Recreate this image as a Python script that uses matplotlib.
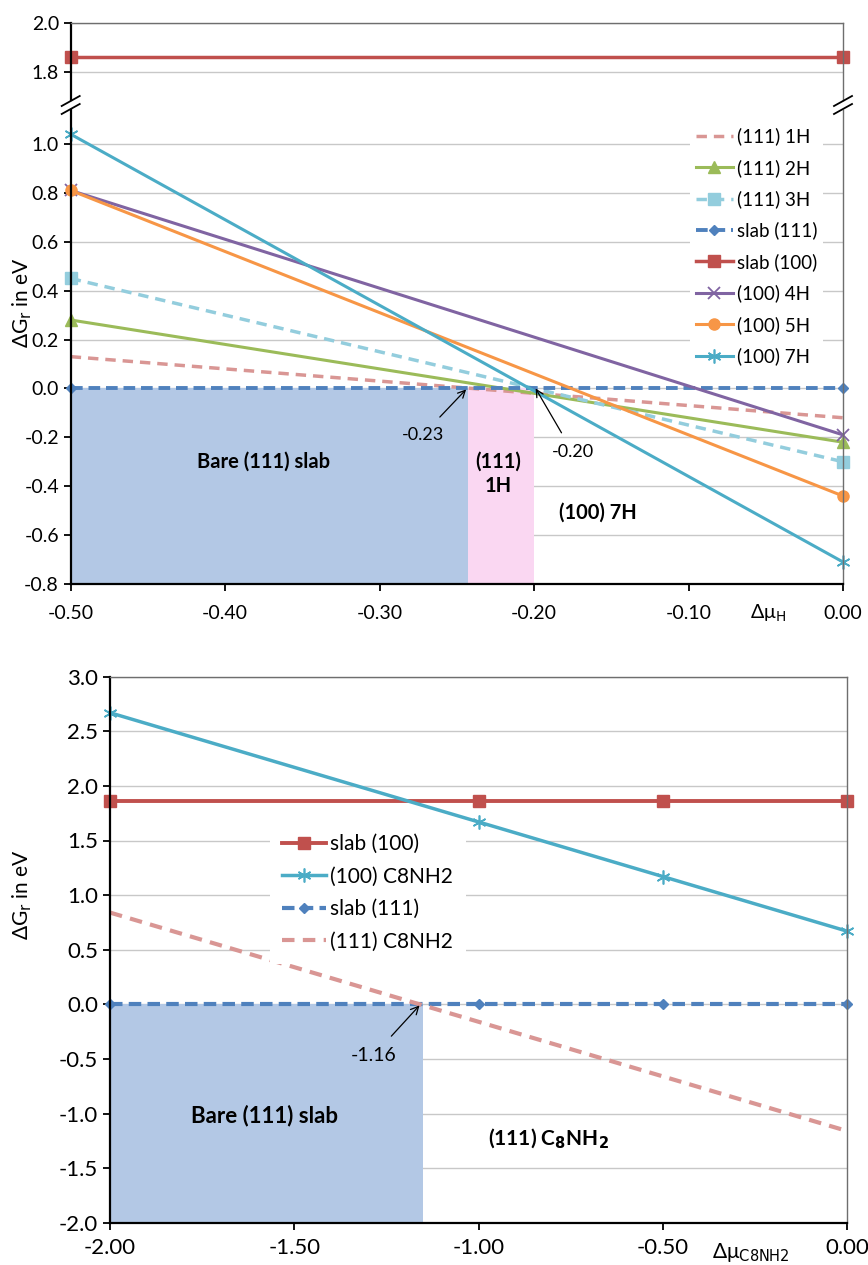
import matplotlib.pyplot as plt
from matplotlib.lines import Line2D

plt.rcParams['font.family'] = ['Lato', 'DejaVu Sans']
plt.rcParams['mathtext.fontset'] = 'dejavusans'

# --- top panel: dG vs delta mu_H ---
mu_h = [-0.5, 0.0]
g_111_1h = [0.13, -0.12]
g_111_2h = [0.28, -0.22]
g_111_3h = [0.45, -0.30]
g_slab_111 = [0.0, 0.0]
g_slab_100 = [1.86, 1.86]
g_100_4h = [0.81, -0.19]
g_100_5h = [0.81, -0.44]
g_100_7h = [1.04, -0.71]
top_xticks = [-0.5, -0.4, -0.3, -0.2, -0.1, 0.0]
top_yticks = [-0.8, -0.6, -0.4, -0.2, 0.0, 0.2, 0.4, 0.6, 0.8, 1.0]
top_yticks_up = [1.8, 2.0]
top_bare = [-0.5, -0.243]
top_1h = [-0.243, -0.20]

# --- bottom panel: dG vs delta mu_C8NH2 ---
mu_c8 = [-2.0, -1.0, -0.5, 0.0]
g_slab_100_b = [1.86, 1.86, 1.86, 1.86]
g_100_c8 = [2.67, 1.67, 1.17, 0.67]
g_slab_111_b = [0.0, 0.0, 0.0, 0.0]
g_111_c8 = [0.84, -0.16, -0.66, -1.16]
bot_xticks = [-2.0, -1.5, -1.0, -0.5, 0.0]
bot_yticks = [-2.0, -1.5, -1.0, -0.5, 0.0, 0.5, 1.0, 1.5, 2.0, 2.5, 3.0]
bot_bare = [-2.0, -1.15]

# colours (Excel 2007 palette)
RED = '#C0504D'
BLUE = '#4F81BD'
GREEN = '#9BBB59'
PURPLE = '#8064A2'
AQUA = '#4BACC6'
ORANGE = '#F79646'
PINK = '#D99694'
LBLUE = '#93CDDD'
GRID = '#C8C8C8'
STAR = (6, 2, 0)

W, H = 868, 1265
fig = plt.figure(figsize=(W / 100, H / 100), dpi=100)


def box(x0, y0, x1, y1):
    # pixel box -> figure fraction
    return [x0 / W, 1 - y1 / H, (x1 - x0) / W, (y1 - y0) / H]


def style(ax, fs):
    ax.grid(axis='y', color=GRID, lw=1.0)
    ax.set_axisbelow(True)
    ax.tick_params(labelsize=fs, direction='out', length=5, width=1.3, color='black')
    ax.tick_params(axis='x', pad=10)
    ax.spines['left'].set_linewidth(1.6)
    ax.spines['bottom'].set_linewidth(1.6)
    for s in ['top', 'right']:
        ax.spines[s].set_color('#6E6E6E')
        ax.spines[s].set_linewidth(1.0)


ax_up = fig.add_axes(box(70.7, 22.7, 843, 100))
ax_lo = fig.add_axes(box(70.7, 110, 843, 584))

# upper part of broken axis
ax_up.plot(mu_h, g_slab_100, color=RED, lw=2.5, marker='s', ms=8, clip_on=False)
ax_up.set_xlim(-0.5, 0.0)
ax_up.set_ylim(1.686, 2.0)
ax_up.set_yticks(top_yticks_up)
ax_up.set_yticklabels(['%.1f' % v for v in top_yticks_up])
ax_up.set_xticks([])
style(ax_up, 14)
ax_up.spines['bottom'].set_visible(False)

# lower part
ax = ax_lo
ax.fill_between(top_bare, 0, -0.8, color='#B3C8E5', lw=0, zorder=1)
ax.fill_between(top_1h, 0, -0.8, color='#FAD7F2', lw=0, zorder=1)
l1, = ax.plot(mu_h, g_111_1h, color=PINK, lw=2.5, ls=(0, (3, 2)), clip_on=False)
l2, = ax.plot(mu_h, g_111_2h, color=GREEN, lw=2.2, marker='^', ms=8, clip_on=False)
l3, = ax.plot(mu_h, g_111_3h, color=LBLUE, lw=2.5, ls=(0, (3, 2)), marker='s', ms=8, clip_on=False)
l4, = ax.plot(mu_h, g_slab_111, color=BLUE, lw=2.8, ls=(0, (3, 1.5)), marker='D', ms=5, clip_on=False)
l6, = ax.plot(mu_h, g_100_4h, color=PURPLE, lw=2.2, marker='x', ms=8, mew=1.3, clip_on=False)
l7, = ax.plot(mu_h, g_100_5h, color=ORANGE, lw=2.2, marker='o', ms=8, clip_on=False)
l8, = ax.plot(mu_h, g_100_7h, color=AQUA, lw=2.2, marker=STAR, ms=10, mew=1.2, clip_on=False)
l5 = Line2D([], [], color=RED, lw=2.5, marker='s', ms=8)
ax.set_xlim(-0.5, 0.0)
ax.set_ylim(-0.8, 1.139)
ax.set_xticks(top_xticks)
ax.set_xticklabels(['%.2f' % v for v in top_xticks])
ax.set_yticks(top_yticks)
ax.set_yticklabels(['%.1f' % v for v in top_yticks])
style(ax, 14)
ax.spines['top'].set_visible(False)

ax.legend([l1, l2, l3, l4, l5, l6, l7, l8],
          ['(111) 1H', '(111) 2H', '(111) 3H', 'slab (111)', 'slab (100)',
           '(100) 4H', '(100) 5H', '(100) 7H'],
          loc='upper left', bbox_to_anchor=(0.802, 0.975), fontsize=13.5,
          frameon=True, facecolor='white', edgecolor='none', framealpha=1,
          labelspacing=0.72, handlelength=2.0, handletextpad=0.2,
          borderpad=0.3, borderaxespad=0, fancybox=False)

ax.text(-0.375, -0.30, 'Bare (111) slab', fontsize=14.5, fontweight='bold', ha='center', va='center')
ax.text(-0.223, -0.35, '(111)\n1H', fontsize=14.5, fontweight='bold', ha='center', va='center', linespacing=1.25)
ax.text(-0.159, -0.51, '(100) 7H', fontsize=14.5, fontweight='bold', ha='center', va='center')
ax.annotate('-0.23', xy=(-0.244, -0.004), xytext=(-0.272, -0.19), fontsize=13, ha='center', va='center',
            arrowprops=dict(arrowstyle='->', color='black', lw=0.9, shrinkA=7, shrinkB=0))
ax.annotate('-0.20', xy=(-0.199, 0.0), xytext=(-0.175, -0.26), fontsize=13, ha='center', va='center',
            arrowprops=dict(arrowstyle='->', color='black', lw=0.9, shrinkA=7, shrinkB=0))
ax.text(0.903, -0.062, 'Δμ$_{\\rm H}$', transform=ax.transAxes, fontsize=14, ha='center', va='center')
fig.text(22 / W, 1 - 303 / H, 'ΔG$_{\\rm r}$ in eV', rotation=90, fontsize=15, ha='center', va='center')

# break marks on both sides of the axis
for xp in [70.7, 843]:
    for dy in [-4, 4]:
        fig.add_artist(Line2D([(xp - 9) / W, (xp + 9) / W],
                              [1 - (105 + dy + 5) / H, 1 - (105 + dy - 5) / H],
                              color='black', lw=1.3))

# --- bottom panel ---
bx = fig.add_axes(box(110, 676.7, 847, 1222.7))
bx.fill_between(bot_bare, 0, -2.0, color='#B3C8E5', lw=0, zorder=1)
bx.plot(mu_c8, g_slab_100_b, color=RED, lw=2.8, marker='s', ms=9, label='slab (100)', clip_on=False)
bx.plot(mu_c8, g_100_c8, color=AQUA, lw=2.5, marker=STAR, ms=10, mew=1.2, label='(100) C8NH2', clip_on=False)
bx.plot(mu_c8, g_slab_111_b, color=BLUE, lw=3.0, ls=(0, (3, 1.5)), marker='D', ms=5, label='slab (111)', clip_on=False)
bx.plot(mu_c8, g_111_c8, color=PINK, lw=3.0, ls=(0, (3, 2)), label='(111) C8NH2', clip_on=False)
bx.set_xlim(-2.0, 0.0)
bx.set_ylim(-2.0, 3.0)
bx.set_xticks(bot_xticks)
bx.set_xticklabels(['%.2f' % v for v in bot_xticks])
bx.set_yticks(bot_yticks)
bx.set_yticklabels(['%.1f' % v for v in bot_yticks])
style(bx, 16)
bx.tick_params(axis='x', pad=6)
bx.legend(loc='upper left', bbox_to_anchor=(0.217, 0.735), fontsize=15,
          frameon=True, facecolor='white', edgecolor='none', framealpha=1,
          labelspacing=0.6, handlelength=2.1, handletextpad=0.2,
          borderpad=0.6, borderaxespad=0, fancybox=False)

bx.text(-1.58, -1.02, 'Bare (111) slab', fontsize=16, fontweight='bold', ha='center', va='center')
bx.text(-0.81, -1.23, r'(111) C$_{\mathbf{8}}$NH$_{\mathbf{2}}$', fontsize=15, fontweight='bold', ha='center', va='center')
bx.annotate('-1.16', xy=(-1.16, -0.01), xytext=(-1.285, -0.47), fontsize=14, ha='center', va='center',
            arrowprops=dict(arrowstyle='->', color='black', lw=0.9, shrinkA=8, shrinkB=0))
bx.text(0.87, -0.055, 'Δμ$_{\\rm C8NH2}$', transform=bx.transAxes, fontsize=15, ha='center', va='center')
fig.text(22 / W, 1 - 895 / H, 'ΔG$_{\\rm r}$ in eV', rotation=90, fontsize=15, ha='center', va='center')

fig.savefig('out.png', dpi=100)
